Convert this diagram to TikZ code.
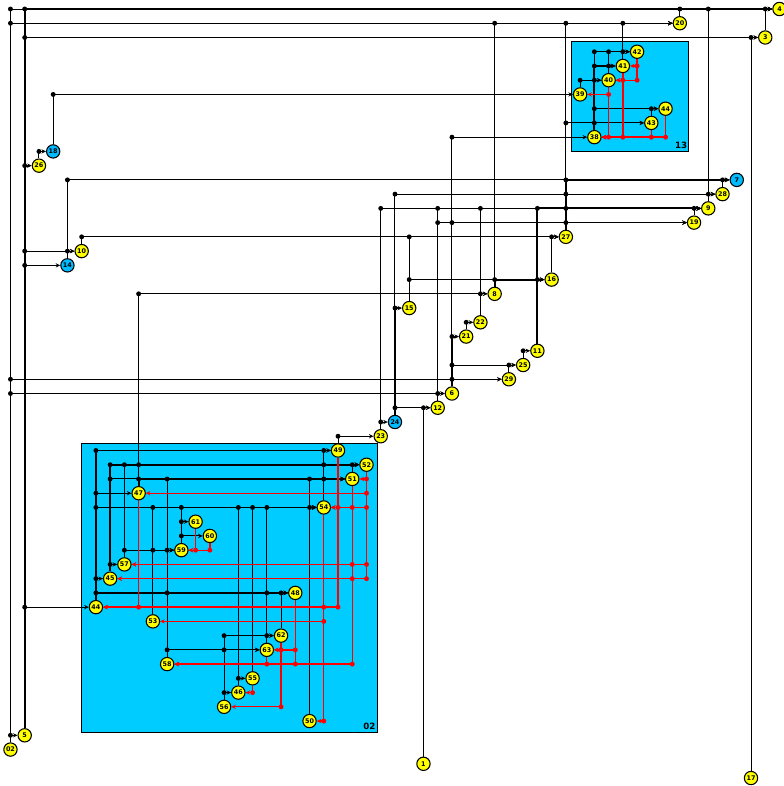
\documentclass[tikz,border=0pt]{standalone}
\usepackage{fontspec}
\setsansfont{DejaVu Sans}
\usepackage{xcolor}
\usepackage{tikz}
\usetikzlibrary{arrows.meta, backgrounds}

\definecolor{blockblue}{HTML}{00CCFF}
\definecolor{nodeblue}{HTML}{00BBFF}
\definecolor{nodeyellow}{HTML}{FFFF00}

\begin{document}
\begin{tikzpicture}[
    x=10.68pt, y=-10.68pt,
    font=\sffamily,
    >={Stealth[length=3.4pt, width=3.2pt]},
    vertex/.style={draw=black, fill=nodeyellow, circle, line width=0.8pt, inner sep=0pt, minimum size=10pt, font=\sffamily\bfseries\fontsize{4.8}{6}\selectfont},
    pivot/.style={vertex, fill=nodeblue},
    block/.style={draw=black, fill=blockblue, line width=0.75pt},
    blocklabel/.style={font=\sffamily\bfseries\fontsize{6.5}{8}\selectfont, inner sep=0pt},
    jdot/.style={circle, inner sep=0pt, minimum size=3.7pt},
    blackarc/.style={->, black, line width=0.75pt, to path={|- node[jdot, fill=black] {} (\tikztotarget)}},
    heavyarc/.style={blackarc, line width=1.45pt},
    redarc/.style={->, red, line width=1pt, to path={|- node[jdot, fill=red] {} (\tikztotarget)}},
    heavyred/.style={redarc, line width=1.3pt}
]
\useasboundingbox (-0.735, -0.632) rectangle (54.25, 54.56);

% Nodes
\node[vertex] (n4) at (54, 0) {4};
\node[vertex] (n20) at (47, 1) {20};
\node[vertex] (n3) at (53, 2) {3};
\node[vertex] (n42) at (44, 3) {42};
\node[vertex] (n41) at (43, 4) {41};
\node[vertex] (n40) at (42, 5) {40};
\node[vertex] (n39) at (40, 6) {39};
\node[vertex] (n44t) at (46, 7) {44};
\node[vertex] (n43) at (45, 8) {43};
\node[vertex] (n38) at (41, 9) {38};
\node[pivot] (n18) at (3, 10) {18};
\node[vertex] (n26) at (2, 11) {26};
\node[pivot] (n7) at (51, 12) {7};
\node[vertex] (n28) at (50, 13) {28};
\node[vertex] (n9) at (49, 14) {9};
\node[vertex] (n19) at (48, 15) {19};
\node[vertex] (n27) at (39, 16) {27};
\node[vertex] (n10) at (5, 17) {10};
\node[pivot] (n14) at (4, 18) {14};
\node[vertex] (n16) at (38, 19) {16};
\node[vertex] (n8) at (34, 20) {8};
\node[vertex] (n15) at (28, 21) {15};
\node[vertex] (n22) at (33, 22) {22};
\node[vertex] (n21) at (32, 23) {21};
\node[vertex] (n11) at (37, 24) {11};
\node[vertex] (n25) at (36, 25) {25};
\node[vertex] (n29) at (35, 26) {29};
\node[vertex] (n6) at (31, 27) {6};
\node[vertex] (n12) at (30, 28) {12};
\node[pivot] (n24) at (27, 29) {24};
\node[vertex] (n23) at (26, 30) {23};
\node[vertex] (n49) at (23, 31) {49};
\node[vertex] (n52) at (25, 32) {52};
\node[vertex] (n51) at (24, 33) {51};
\node[vertex] (n47) at (9, 34) {47};
\node[vertex] (n54) at (22, 35) {54};
\node[vertex] (n61) at (13, 36) {61};
\node[vertex] (n60) at (14, 37) {60};
\node[vertex] (n59) at (12, 38) {59};
\node[vertex] (n57) at (8, 39) {57};
\node[vertex] (n45) at (7, 40) {45};
\node[vertex] (n48) at (20, 41) {48};
\node[vertex] (n44) at (6, 42) {44};
\node[vertex] (n53) at (10, 43) {53};
\node[vertex] (n62) at (19, 44) {62};
\node[vertex] (n63) at (18, 45) {63};
\node[vertex] (n58) at (11, 46) {58};
\node[vertex] (n55) at (17, 47) {55};
\node[vertex] (n46) at (16, 48) {46};
\node[vertex] (n56) at (15, 49) {56};
\node[vertex] (n50) at (21, 50) {50};
\node[vertex] (n5) at (1, 51) {5};
\node[vertex] (n02) at (0, 52) {02};
\node[vertex] (n1) at (29, 53) {1};
\node[vertex] (n17) at (52, 54) {17};

\begin{scope}[on background layer]
% Blocks
\draw[block] (39.38, 2.30) rectangle (47.60, 10.02);
\draw[block] (5.02, 30.51) rectangle (25.75, 50.80);

% Black arcs
\foreach \from/\to in {
    02/4, 20/4, 9/4, 3/4,
    02/20, 8/20, 27/20, 41/20,
    5/3, 17/3,
    38/42, 40/42, 41/42,
    40/41,
    39/40, 38/40,
    18/39,
    38/44t, 43/44t,
    27/43, 38/43,
    6/38,
    26/18,
    14/7, 28/7,
    24/28, 27/28, 9/28,
    23/9, 12/9, 22/9, 19/9,
    12/19, 6/19, 27/19,
    10/27, 15/27, 16/27,
    5/10, 14/10,
    5/14,
    15/16, 11/16,
    47/8, 22/8,
    21/22,
    25/11,
    6/25, 29/25,
    02/29, 6/29,
    02/6, 12/6,
    24/12, 1/12,
    23/24,
    49/23,
    54/49,
    57/52, 47/52, 54/52, 51/52,
    45/51, 58/51, 50/51, 54/51,
    44/47,
    44/54, 53/54, 59/54, 46/54, 55/54, 63/54, 50/54,
    59/61,
    59/60,
    57/59, 53/59, 58/59,
    45/57,
    44/45,
    58/48, 63/48, 62/48,
    5/44,
    56/62, 63/62,
    58/63, 56/63,
    46/55,
    56/46,
    02/5}
    \draw[blackarc] (n\from) to (n\to);

% Heavy arcs
\foreach \from/\to in {
    5/4, 5/26, 38/41, 11/9, 27/9, 27/7, 8/16, 24/15, 6/21,
    44/49, 45/52, 47/51, 44/48}
    \draw[heavyarc] (n\from) to (n\to);

% Red arcs
\foreach \from/\to in {
    42/41,
    41/40, 42/40,
    40/39,
    40/38, 41/38, 43/38,
    52/51,
    52/47,
    49/54, 51/54, 52/54,
    61/59, 60/59,
    51/57, 52/57,
    51/45, 52/45,
    47/44, 54/44, 49/44,
    54/53,
    62/63, 48/63,
    63/58, 48/58, 51/58,
    55/46,
    62/56,
    54/50}
    \draw[redarc] (n\from) to (n\to);

\draw[heavyred] (n44t) to (n38);
\end{scope}

% Block labels
\node[blocklabel] (l13) at (47.1, 9.6) {13};
\node[blocklabel] (l02) at (25.2, 50.35) {02};

\end{tikzpicture}
\end{document}
